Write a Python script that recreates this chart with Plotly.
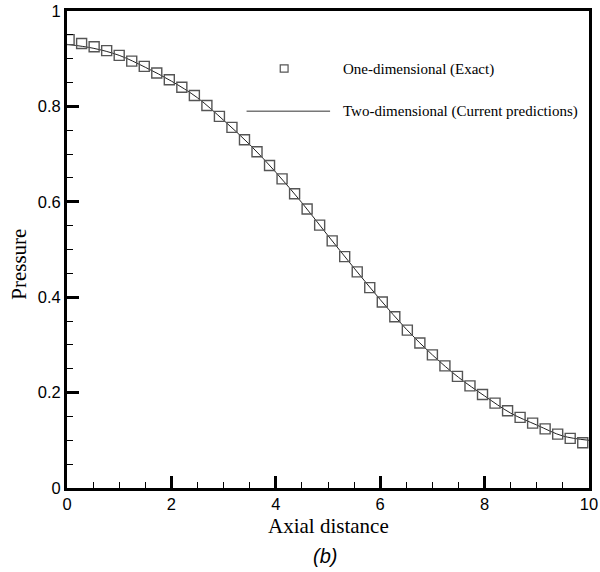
import plotly.graph_objects as go

# Markers: one-dimensional exact solution
exact_x = [0.04, 0.28, 0.52, 0.76, 1.00, 1.24, 1.48, 1.72, 1.96, 2.20,
           2.44, 2.68, 2.92, 3.16, 3.40, 3.64, 3.88, 4.12, 4.36, 4.60,
           4.84, 5.08, 5.32, 5.56, 5.80, 6.04, 6.28, 6.52, 6.76, 7.00,
           7.24, 7.48, 7.72, 7.96, 8.20, 8.44, 8.68, 8.92, 9.16, 9.40,
           9.64, 9.88]
exact_p = [0.940, 0.932, 0.925, 0.917, 0.907, 0.895, 0.884, 0.870, 0.856, 0.840,
           0.823, 0.802, 0.779, 0.756, 0.730, 0.705, 0.676, 0.648, 0.617, 0.585,
           0.551, 0.518, 0.485, 0.453, 0.420, 0.390, 0.359, 0.331, 0.304, 0.279,
           0.256, 0.234, 0.214, 0.196, 0.178, 0.162, 0.148, 0.136, 0.124, 0.113,
           0.104, 0.095]

# Line: two-dimensional current predictions
pred_x = [0.0, 0.5, 1.0, 1.5, 2.0, 2.5, 3.0, 3.5, 4.0, 4.5, 5.0,
          5.5, 6.0, 6.5, 7.0, 7.5, 8.0, 8.5, 9.0, 9.5, 10.0]
pred_p = [0.930, 0.922, 0.907, 0.882, 0.853, 0.818, 0.771, 0.720, 0.662, 0.598, 0.529,
          0.461, 0.395, 0.333, 0.279, 0.232, 0.193, 0.157, 0.132, 0.109, 0.100]

x_ticks = [0, 2, 4, 6, 8, 10]
y_ticks = [0, 0.2, 0.4, 0.6, 0.8, 1]
y_tick_text = ["0", "0.2", "0.4", "0.6", "0.8", "1"]

fig = go.Figure()
fig.add_trace(go.Scatter(x=pred_x, y=pred_p, mode="lines", line=dict(color="#222", width=1, shape="spline"),
                         showlegend=False))
fig.add_trace(go.Scatter(x=exact_x, y=exact_p, mode="markers",
                         marker=dict(symbol="square-open", size=10, color="#555", line=dict(width=1.4, color="#555")),
                         showlegend=False))

serif = "Liberation Serif, Times New Roman, serif"
sans = "Liberation Sans, Arial, sans-serif"

axis_common = dict(showgrid=False, zeroline=False, showline=True, linecolor="black", linewidth=3,
                   mirror=True, ticks="inside", ticklen=12, tickwidth=3, tickcolor="black",
                   automargin=False,
                   tickfont=dict(family=sans, size=16.5, color="black"))

fig.update_xaxes(range=[0, 10], tickvals=x_ticks, ticktext=[str(v) for v in x_ticks],
                 ticklabelstandoff=-1,
                 minor=dict(dtick=0.5, ticks="inside", ticklen=6, tickwidth=1, tickcolor="black"),
                 **axis_common)
fig.update_yaxes(range=[0, 1], tickvals=y_ticks, ticktext=y_tick_text,
                 minor=dict(dtick=0.05, ticks="inside", ticklen=6, tickwidth=1, tickcolor="black"),
                 **axis_common)

# axis titles
fig.add_annotation(xref="paper", yref="paper", x=0.5, y=-0.08, yanchor="middle", text="Axial distance",
                   showarrow=False, font=dict(family=serif, size=21, color="black"))
fig.add_annotation(xref="paper", yref="paper", x=-0.092, y=0.47, xanchor="center", yanchor="middle", text="Pressure",
                   textangle=-90, showarrow=False, font=dict(family=serif, size=21, color="black"))

# legend drawn manually
fig.add_shape(type="rect", xref="paper", yref="paper", x0=0.4085, x1=0.4235, y0=0.872, y1=0.887,
              line=dict(color="#555", width=1.2))
fig.add_annotation(xref="paper", yref="paper", x=0.525, y=0.877, xanchor="left", yanchor="middle",
                   text="One-dimensional (Exact)",
                   showarrow=False, font=dict(family=serif, size=15, color="black"))
fig.add_shape(type="line", xref="paper", yref="paper", x0=0.344, x1=0.504, y0=0.79, y1=0.79,
              line=dict(color="#333", width=1))
fig.add_annotation(xref="paper", yref="paper", x=0.525, y=0.79, xanchor="left", yanchor="middle",
                   text="Two-dimensional (Current predictions)",
                   showarrow=False, font=dict(family=serif, size=15, color="black"))

fig.add_annotation(xref="paper", yref="paper", x=0.495, y=-0.142, yanchor="middle", text="<i>(b)</i>",
                   showarrow=False, font=dict(family=sans, size=20, color="black"))

fig.update_layout(width=600, height=572, margin=dict(l=67, r=11, t=11, b=84),
                  plot_bgcolor="white", paper_bgcolor="white")

fig.write_html("out.html")
